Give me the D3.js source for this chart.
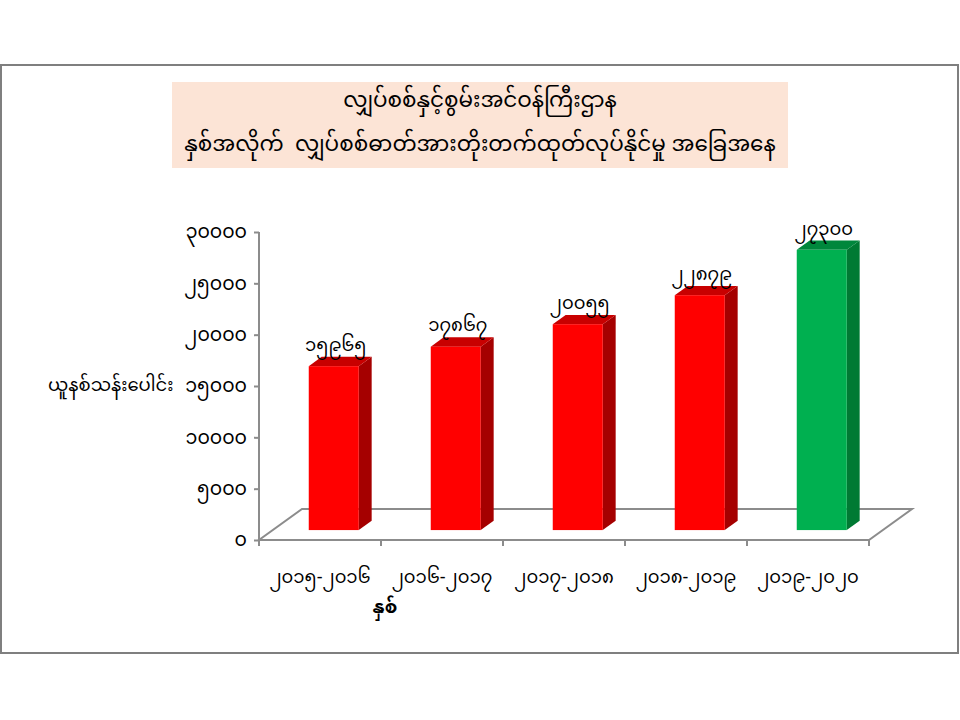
<!DOCTYPE html>
<html><head><meta charset="utf-8">
<script src="https://cdn.jsdelivr.net/npm/d3@7/dist/d3.min.js"></script>
<style>
html,body{margin:0;padding:0;background:#fff;}
text{font-family:"Noto Sans Myanmar","Myanmar Text","Padauk","Myanmar3","Noto Sans","DejaVu Sans",sans-serif;white-space:pre;}
</style></head>
<body>
<svg id="c" width="960" height="720"></svg>
<script>
const titleLines = ["လျှပ်စစ်နှင့်စွမ်းအင်ဝန်ကြီးဌာန", "နှစ်အလိုက်  လျှပ်စစ်ဓာတ်အားတိုးတက်ထုတ်လုပ်နိုင်မှု အခြေအနေ"];
const categories = ["၂၀၁၅-၂၀၁၆", "၂၀၁၆-၂၀၁၇", "၂၀၁၇-၂၀၁၈", "၂၀၁၈-၂၀၁၉", "၂၀၁၉-၂၀၂၀"];
const values = [15965, 17867, 20055, 22879, 27300];
const valueLabels = ["၁၅၉၆၅", "၁၇၈၆၇", "၂၀၀၅၅", "၂၂၈၇၉", "၂၇၃၀၀"];
const tickValues = [0, 5000, 10000, 15000, 20000, 25000, 30000];
const tickLabels = ["၀", "၅၀၀၀", "၁၀၀၀၀", "၁၅၀၀၀", "၂၀၀၀၀", "၂၅၀၀၀", "၃၀၀၀၀"];
const yTitle = "ယူနစ်သန်းပေါင်း";
const xTitle = "နှစ်";
const highlightIndex = 4;

const svg = d3.select("#c");
svg.append("rect").attr("x",1).attr("y",65).attr("width",957).attr("height",588)
  .attr("fill","none").attr("stroke","#7f7f7f").attr("stroke-width",2);

svg.append("rect").attr("x",172).attr("y",82).attr("width",616).attr("height",86).attr("fill","#fce4d6");
svg.selectAll("text.title").data(titleLines).join("text").attr("class","title")
  .attr("x",480).attr("y",(d,i)=>107+i*44).attr("text-anchor","middle")
  .attr("font-size",21.5).attr("fill","#000").text(d=>d);

const left = 259, right = 869;
const depthX = 43, depthY = -31;
const x = d3.scaleBand().domain(categories).range([left,right]).paddingInner(0.59).paddingOuter(0.295);
const y = d3.scaleLinear().domain([0,30000]).range([540,232]);

const floorPts = [[left,540],[right,540],[right+depthX,540+depthY],[left+depthX,540+depthY]];
svg.append("polygon").attr("points",floorPts.map(p=>p.join(",")).join(" "))
  .attr("fill","none").attr("stroke","#8c8c8c").attr("stroke-width",2);

svg.append("line").attr("x1",left).attr("x2",left).attr("y1",y(30000)).attr("y2",y(0))
  .attr("stroke","#8c8c8c").attr("stroke-width",2);
const yAxis = d3.axisLeft(y).tickValues(tickValues).tickSize(5).tickPadding(7)
  .tickFormat((d,i)=>tickLabels[i]);
const yg = svg.append("g").attr("transform",`translate(${left},0)`).call(yAxis);
yg.select(".domain").remove();
yg.selectAll(".tick line").attr("stroke","#8c8c8c").attr("stroke-width",2);
yg.selectAll(".tick text").attr("font-size",19).attr("fill","#000").attr("dy","0.3em");

const xb = d3.scalePoint().domain(d3.range(categories.length+1)).range([left,right]);
svg.selectAll("line.ctick").data(d3.range(categories.length+1)).join("line").attr("class","ctick")
  .attr("x1",d=>xb(d)).attr("x2",d=>xb(d)).attr("y1",540).attr("y2",546)
  .attr("stroke","#8c8c8c").attr("stroke-width",2);
svg.selectAll("text.cat").data(categories).join("text").attr("class","cat")
  .attr("x",(d,i)=>(xb(i)+xb(i+1))/2).attr("y",583).attr("text-anchor","middle")
  .attr("font-size",18).attr("fill","#000").text(d=>d);

const fz = 0.32, bz = 0.30;
const ox = depthX*fz, oy = depthY*fz;
const bx = depthX*bz, by = depthY*bz;
const colors = i => i===highlightIndex
  ? {front:"#00b050", side:"#007a33", top:"#00873c"}
  : {front:"#ff0000", side:"#a50000", top:"#c80000"};
const g = svg.append("g");
values.forEach((v,i)=>{
  const c = colors(i);
  const x0 = x(categories[i]) + ox, x1 = x0 + x.bandwidth();
  const yb = y(0) + oy, yt = y(v) + oy;
  g.append("polygon").attr("points",[[x1,yb],[x1+bx,yb+by],[x1+bx,yt+by],[x1,yt]].map(p=>p.join(",")).join(" ")).attr("fill",c.side);
  g.append("polygon").attr("points",[[x0,yt],[x1,yt],[x1+bx,yt+by],[x0+bx,yt+by]].map(p=>p.join(",")).join(" ")).attr("fill",c.top);
  g.append("rect").attr("x",x0).attr("y",yt).attr("width",x1-x0).attr("height",yb-yt).attr("fill",c.front);
  g.append("text").attr("x",(x0+x1)/2+2).attr("y",yt+by-6).attr("text-anchor","middle")
    .attr("font-size",18).attr("fill","#000").text(valueLabels[i]);
});

svg.append("text").attr("x",48).attr("y",391).attr("font-size",18).attr("fill","#000").text(yTitle);
svg.append("text").attr("x",385).attr("y",613).attr("text-anchor","middle").attr("font-size",18)
  .attr("font-weight","bold").attr("fill","#000").text(xTitle);
</script>
</body></html>
